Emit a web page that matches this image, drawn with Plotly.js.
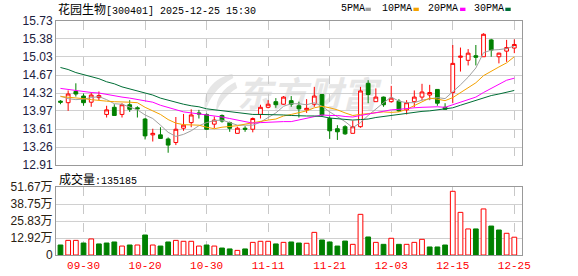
<!DOCTYPE html>
<html>
<head>
<meta charset="utf-8">
<script src="https://cdn.plot.ly/plotly-3.0.1.min.js"></script>
<style>
html,body{margin:0;padding:0;background:#fff;}
#chart{width:578px;height:276px;}
</style>
</head>
<body>
<div id="chart"></div>
<script>
const stockName = "花园生物";
const stockCode = "300401";
const stamp = "2025-12-25 15:30";
const volLabel = "成交量";
const lastVolume = "135185";

const dates = ["09-25","09-26","09-29","09-30","10-09","10-10","10-13","10-14","10-15","10-16",
"10-17","10-20","10-21","10-22","10-23","10-24","10-27","10-28","10-29","10-30",
"10-31","11-03","11-04","11-05","11-06","11-07","11-10","11-11","11-12","11-13",
"11-14","11-17","11-18","11-19","11-20","11-21","11-24","11-25","11-26","11-27",
"11-28","12-01","12-02","12-03","12-04","12-05","12-08","12-09","12-10","12-11",
"12-12","12-15","12-16","12-17","12-18","12-19","12-22","12-23","12-24","12-25"];

const openP = [14.16,14.13,14.35,14.26,14.14,14.23,13.90,14.04,13.90,14.09,
14.03,13.81,13.50,13.50,13.42,13.35,13.63,13.74,13.93,13.90,
13.71,13.88,13.74,13.53,13.63,13.61,13.90,14.04,14.15,14.10,
14.17,14.07,13.99,14.10,14.29,13.82,13.62,13.66,13.53,13.66,
14.51,14.15,14.24,14.15,14.16,13.99,14.15,14.24,14.28,14.39,
14.04,14.33,15.02,14.96,15.05,15.03,15.36,15.03,15.14,15.20];
const highP = [14.18,14.37,14.51,14.31,14.33,14.35,14.07,14.10,14.12,14.18,
14.06,13.83,13.62,13.65,13.45,13.85,13.91,14.00,13.99,13.92,
13.86,13.90,13.76,13.66,13.67,13.84,14.09,14.18,14.22,14.26,
14.26,14.15,14.20,14.44,14.30,13.86,13.69,13.69,13.78,14.44,
14.57,14.41,14.25,14.46,14.20,14.18,14.37,14.50,14.48,14.39,
14.12,15.26,15.21,15.18,15.26,15.49,15.38,15.11,15.36,15.37];
const lowP = [14.10,13.97,14.25,14.07,14.05,14.18,13.84,13.88,13.84,13.95,
13.84,13.41,13.37,13.42,13.15,13.30,13.58,13.65,13.82,13.60,
13.63,13.74,13.56,13.53,13.56,13.55,13.82,14.02,14.03,14.09,
14.05,13.84,13.93,14.05,13.87,13.42,13.40,13.50,13.53,13.64,
14.12,14.15,14.05,14.13,13.95,13.90,14.04,14.18,14.18,14.07,
13.99,14.12,14.74,14.86,14.86,15.03,15.03,14.90,14.93,15.10];
const closeP = [14.14,14.30,14.30,14.13,14.28,14.27,13.99,13.88,14.09,14.00,
14.01,13.48,13.53,13.43,13.30,13.61,13.69,13.89,13.91,13.61,
13.79,13.77,13.63,13.63,13.61,13.82,14.04,14.10,14.09,14.24,
14.10,14.01,14.02,14.26,13.89,13.58,13.56,13.52,13.66,14.36,
14.29,14.24,14.09,14.22,13.97,14.13,14.24,14.34,14.33,14.12,
14.00,14.90,15.04,15.10,15.02,15.47,15.16,15.10,15.21,15.27];

const ma5 = [14.26,14.21,14.19,14.20,14.23,14.25,14.19,14.11,14.10,14.05,
13.99,13.89,13.82,13.69,13.55,13.47,13.51,13.58,13.68,13.74,
13.78,13.79,13.74,13.69,13.69,13.69,13.75,13.84,13.93,14.06,
14.11,14.11,14.09,14.13,14.06,13.95,13.86,13.76,13.64,13.74,
13.88,14.01,14.13,14.24,14.16,14.13,14.13,14.18,14.20,14.23,
14.21,14.34,14.48,14.63,14.81,15.11,15.16,15.17,15.19,15.24];
const ma10 = [14.25,14.24,14.23,14.21,14.19,14.17,14.16,14.15,14.15,14.14,
14.13,14.04,13.97,13.90,13.80,13.73,13.70,13.70,13.69,13.65,
13.62,13.65,13.66,13.68,13.71,13.74,13.77,13.79,13.81,13.87,
13.90,13.93,13.97,14.03,14.06,14.03,13.99,13.93,13.88,13.90,
13.92,13.94,13.95,13.94,13.95,14.00,14.07,14.15,14.22,14.20,
14.17,14.23,14.33,14.42,14.52,14.66,14.75,14.83,14.91,15.03];
const ma20 = [14.41,14.39,14.37,14.34,14.33,14.32,14.29,14.27,14.24,14.22,
14.19,14.17,14.14,14.08,14.04,13.99,13.95,13.93,13.91,13.89,
13.88,13.85,13.82,13.79,13.76,13.73,13.74,13.75,13.75,13.76,
13.76,13.79,13.82,13.86,13.89,13.88,13.88,13.86,13.85,13.88,
13.91,13.93,13.96,13.99,14.00,14.02,14.03,14.04,14.05,14.05,
14.04,14.09,14.14,14.18,14.24,14.33,14.41,14.49,14.57,14.61];
const ma30 = [14.82,14.78,14.72,14.68,14.63,14.60,14.54,14.50,14.44,14.40,
14.36,14.32,14.28,14.22,14.18,14.13,14.10,14.07,14.05,14.01,
13.99,13.97,13.95,13.93,13.91,13.90,13.90,13.90,13.90,13.89,
13.88,13.87,13.87,13.87,13.86,13.83,13.82,13.81,13.79,13.80,
13.81,13.84,13.86,13.88,13.91,13.92,13.94,13.96,13.97,13.99,
14.00,14.03,14.08,14.13,14.18,14.23,14.27,14.30,14.34,14.37];

const vol = [7.6,11.1,11.1,9.1,12.2,8.4,9.1,9.9,6.8,7.6,
7.6,15.2,7.6,6.8,9.9,11.1,10.4,10.4,6.8,7.6,
6.8,5.3,4.6,3.5,4.6,9.6,10.4,10.4,8.4,9.6,
9.9,9.1,8.9,17.2,11.4,9.9,6.8,10.6,8.1,30.9,
13.7,9.6,8.1,12.7,8.1,8.1,9.6,11.9,6.1,6.1,
7.6,48.4,32.4,19.8,19.8,35.0,22.0,19.0,16.5,13.52];
const volUp = [0,1,1,0,1,0,0,0,1,0,
1,0,1,0,0,1,1,1,1,0,
1,0,0,1,0,1,1,1,0,1,
0,0,1,1,0,0,0,0,1,1,
0,1,0,1,0,1,1,1,0,0,
0,1,1,1,0,1,0,0,1,1];

const labelDates = ["09-30","10-20","10-30","11-11","11-21","12-03","12-15","12-25"];
const priceTicks = [12.91,13.26,13.61,13.97,14.32,14.67,15.03,15.38,15.73];
const priceTickText = ["12.91","13.26","13.61","13.97","14.32","14.67","15.03","15.38","15.73"];
const volTicks = [0,12.92,25.83,38.75,51.67];
const volTickText = ["0","12.92万","25.83万","38.75万","51.67万"];
const maNames = ["5PMA","10PMA","20PMA","30PMA"];

const RED = '#ff0000', GREEN = '#008000';
const maColors = ['#a0a0a0','#f5a200','#ff00ff','#006e36'];

// pixel helpers (layout positioning only)
const L = 55.5, R = 522, T = 21, B = 255;
const px = v => (v - L) / (R - L);
const py = v => (B - v) / (B - T);

const traces = [];
traces.push({
  type:'candlestick', x:dates, open:openP, high:highP, low:lowP, close:closeP,
  xaxis:'x', yaxis:'y',
  increasing:{line:{color:RED,width:1}, fillcolor:'#ffffff'},
  decreasing:{line:{color:GREEN,width:1}, fillcolor:GREEN},
  whiskerwidth:0, hoverinfo:'skip', showlegend:false
});
[ma5,ma10,ma20,ma30].forEach((m,i)=>{
  traces.push({type:'scatter', mode:'lines', x:dates, y:m, xaxis:'x', yaxis:'y',
    line:{color:maColors[i], width:1}, hoverinfo:'skip', showlegend:false, name:maNames[i]});
});
traces.push({
  type:'bar', x:dates, y:vol, xaxis:'x2', yaxis:'y2', width:0.62,
  marker:{color:volUp.map(u=>u?'#ffffff':GREEN), line:{color:volUp.map(u=>u?RED:GREEN), width:1}},
  hoverinfo:'skip', showlegend:false
});

const xCommon = {
  type:'category', categoryorder:'array', categoryarray:dates, range:[-0.58,60],
  tickvals:labelDates, ticktext:labelDates, showgrid:true, gridcolor:'#c8c8c8', griddash:'dash', gridwidth:1,
  showline:true, mirror:true, linecolor:'#999999', linewidth:1, ticks:'', zeroline:false, fixedrange:true
};

const annotations = [];
annotations.push({xref:'paper', yref:'paper', x:px(56), y:py(9), xanchor:'left', yanchor:'middle', showarrow:false,
  text:'<span style="font-family:Noto Sans CJK SC;font-size:12px">'+stockName+'</span>['+stockCode+'] '+stamp,
  font:{family:'Liberation Mono', size:10, color:'#000'}});
annotations.push({xref:'paper', yref:'paper', x:px(57), y:py(178), xanchor:'left', yanchor:'middle', showarrow:false,
  text:'<span style="font-family:Noto Sans CJK SC;font-size:12px">'+volLabel+'</span>:'+lastVolume,
  font:{family:'Liberation Mono', size:10, color:'#000'}});
const legX = [339, 380, 426, 471.5];
const sqX = [365.3, 413.3, 460, 505.3];
const shapes = [];
maNames.forEach((n,i)=>{
  annotations.push({xref:'paper', yref:'paper', x:px(legX[i]), y:py(9), xanchor:'left', yanchor:'middle', showarrow:false,
    text:n, font:{family:'Liberation Mono', size:10, color:'#000'}});
  shapes.push({type:'rect', xref:'paper', yref:'paper', x0:px(sqX[i]), x1:px(sqX[i]+5.4), y0:py(11), y1:py(7.7),
    fillcolor:maColors[i], line:{width:0}});
});

const wm = "<svg xmlns='http://www.w3.org/2000/svg' width='186' height='42' viewBox='0 0 186 42'>"+
  "<path d='M33 2 C14 6 2 20 6 40 C9 28 18 14 34 6 Z M36 10 C24 16 16 26 17 40 C21 30 28 22 38 16 Z' fill='#e6e6e6'/>"+
  "<text x='38' y='35' font-family='Noto Sans CJK SC' font-weight='bold' font-style='italic' font-size='35' fill='#e6e6e6'>东方财富</text></svg>";

const layout = {
  width:578, height:276,
  margin:{l:L, r:578-R, t:T, b:276-B, pad:0},
  paper_bgcolor:'#ffffff', plot_bgcolor:'rgba(0,0,0,0)',
  showlegend:false, hovermode:false, dragmode:false,
  font:{family:'Liberation Sans, Noto Sans CJK SC', size:12, color:'#222'},
  xaxis:Object.assign({}, xCommon, {anchor:'y', domain:[0,1], showticklabels:false, rangeslider:{visible:false}}),
  xaxis2:Object.assign({}, xCommon, {anchor:'y2', domain:[0,1], showticklabels:true,
    tickfont:{family:'Liberation Mono', size:11, color:RED}}),
  yaxis:{domain:[py(165),1], range:[12.91,15.73], tickvals:priceTicks, ticktext:priceTickText,
    showgrid:true, gridcolor:'#d0d0d0', gridwidth:1, showline:true, mirror:true, linecolor:'#999999',
    ticks:'', zeroline:false, fixedrange:true, tickfont:{family:'Liberation Sans', size:12, color:'#1c2040'}},
  yaxis2:{domain:[0,py(187)], range:[0,51.67], tickvals:volTicks, ticktext:volTickText,
    showgrid:true, gridcolor:'#d0d0d0', gridwidth:1, showline:true, mirror:true, linecolor:'#999999',
    ticks:'', zeroline:false, fixedrange:true, tickfont:{family:'Liberation Sans, Noto Sans CJK SC', size:12, color:'#2a2010'}},
  bargap:0.35,
  annotations:annotations,
  shapes:shapes,
  images:[{source:'data:image/svg+xml;charset=utf-8,'+encodeURIComponent(wm), xref:'paper', yref:'paper',
    x:px(199), y:py(72), sizex:186/(R-L), sizey:42/(B-T), xanchor:'left', yanchor:'top', sizing:'stretch', layer:'below'}]
};

Plotly.newPlot('chart', traces, layout, {staticPlot:true, displayModeBar:false});
</script>
</body>
</html>
